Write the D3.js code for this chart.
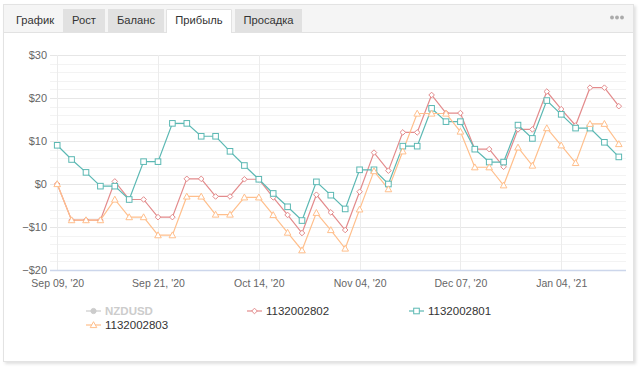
<!DOCTYPE html>
<html><head><meta charset="utf-8">
<script src="https://cdn.jsdelivr.net/npm/d3@7"></script>
<style>
body{margin:0;background:#fff;font-family:"Liberation Sans",Arial,sans-serif}
svg{display:block}
</style></head>
<body><svg id="c" width="643" height="371"></svg>
<script>
const categories=["Sep 09, '20","Sep 10, '20","Sep 11, '20","Sep 14, '20","Sep 15, '20","Sep 16, '20","Sep 18, '20",
"Sep 21, '20","Sep 24, '20","Sep 28, '20","Oct 01, '20","Oct 05, '20","Oct 07, '20","Oct 09, '20",
"Oct 14, '20","Oct 16, '20","Oct 20, '20","Oct 23, '20","Oct 27, '20","Oct 29, '20","Nov 02, '20",
"Nov 04, '20","Nov 09, '20","Nov 13, '20","Nov 17, '20","Nov 20, '20","Nov 25, '20","Dec 01, '20",
"Dec 07, '20","Dec 10, '20","Dec 14, '20","Dec 17, '20","Dec 21, '20","Dec 24, '20","Dec 29, '20",
"Jan 04, '21","Jan 06, '21","Jan 08, '21","Jan 12, '21","Jan 14, '21"];
const tickLabels=["Sep 09, '20","Sep 21, '20","Oct 14, '20","Nov 04, '20","Dec 07, '20","Jan 04, '21"];
const yTicks=[-20,-10,0,10,20,30];
const tabs=["График","Рост","Баланс","Прибыль","Просадка"];
const activeTab="Прибыль";
const s1132002802=[0,-8.4,-8.4,-8.4,0.6,-3.6,-3.6,-7.7,-7.7,1.2,1.2,-2.9,-2.9,1.1,1.1,-3.1,-7.2,-11.4,-2.5,-6.6,-10.7,-1.8,7.3,3.1,12.0,12.0,20.7,16.5,16.5,8.1,8.1,4.0,12.7,12.7,21.5,17.4,13.6,22.4,22.4,18.1];
const s1132002801=[9.0,5.7,2.7,-0.5,-0.5,-3.6,5.2,5.2,14.1,14.1,11.1,11.1,7.6,4.3,1.1,-2.2,-5.3,-8.5,0.5,-2.6,-5.8,3.3,3.3,0,8.8,8.8,17.6,14.5,14.5,8.1,5.1,5.1,13.7,10.6,19.4,16.2,13.0,13.0,9.7,6.3];
const s1132002803=[0,-8.4,-8.4,-8.4,-3.6,-7.7,-7.7,-11.9,-11.9,-2.9,-2.9,-7.1,-7.1,-3.1,-3.1,-7.2,-11.3,-15.4,-6.7,-10.7,-15.0,-5.9,3.0,-1.2,7.6,16.4,16.4,16.4,12.2,3.9,3.9,-0.3,8.5,4.3,13.0,9.0,4.9,14.0,14.0,9.3];
const legendNames=["NZDUSD","1132002802","1132002801","1132002803"];

const series=[
 {name:"1132002802",values:s1132002802,color:"#e38b8c",marker:"diamond"},
 {name:"1132002801",values:s1132002801,color:"#5bb8b3",marker:"square"},
 {name:"1132002803",values:s1132002803,color:"#ffbf8c",marker:"triangle"}
];

const svg=d3.select("#c");
const defs=svg.append("defs");
const f=defs.append("filter").attr("id","sh").attr("x","-5%").attr("y","-5%").attr("width","110%").attr("height","110%");
f.append("feDropShadow").attr("dx",2).attr("dy",2).attr("stdDeviation",1.5).attr("flood-color","#000").attr("flood-opacity",0.12);

// card
svg.append("rect").attr("x",3.5).attr("y",4.5).attr("width",630).attr("height",357).attr("fill","#fff").attr("stroke","#e3e3e3").attr("filter","url(#sh)");
// tab bar
svg.append("rect").attr("x",4).attr("y",5).attr("width",629).attr("height",27).attr("fill","#f5f5f5");
svg.append("line").attr("x1",4).attr("x2",633).attr("y1",32.5).attr("y2",32.5).attr("stroke","#e2e2e2");
const tabPos=[[6,60],[63,105],[108,164],[166,232],[235,302]];
tabs.forEach((t,i)=>{
  const [a,b]=tabPos[i];
  const act=t===activeTab;
  if(i>0){
    svg.append("rect").attr("x",a).attr("y",9).attr("width",b-a).attr("height",act?24:23)
      .attr("fill",act?"#fff":"#e1e1e1");
    if(act){
      svg.append("path").attr("d",`M${a+0.5},33V9.5H${b-0.5}V33`).attr("fill","none").attr("stroke","#e2e2e2");
    }
  }
  svg.append("text").attr("x",(a+b)/2+(i===0?2:0)).attr("y",23.5).attr("text-anchor","middle")
    .attr("font-size",11.2).attr("fill","#333").text(t);
});
// dots menu
[612,617,622].forEach(cx=>svg.append("circle").attr("cx",cx).attr("cy",17.5).attr("r",1.9).attr("fill","#aaa"));

const L=50,R=626,T=55,B=270;
const x=d3.scaleBand().domain(categories).range([L,R]);
const cx=d=>x(d)+x.bandwidth()/2;
const y=d3.scaleLinear().domain([-20,30]).range([B,T]);

const g=svg.append("g");
// minor grid
g.selectAll(".mi").data(d3.range(-20,31,2).filter(v=>v%10!==0)).enter().append("line")
  .attr("x1",L).attr("x2",R).attr("y1",d=>Math.round(y(d))+0.5).attr("y2",d=>Math.round(y(d))+0.5)
  .attr("stroke","#f3f3f3");
// major grid
g.selectAll(".ma").data(yTicks.filter(v=>v!==-20)).enter().append("line")
  .attr("x1",L).attr("x2",R).attr("y1",d=>Math.round(y(d))+0.5).attr("y2",d=>Math.round(y(d))+0.5)
  .attr("stroke","#e6e6e6");
// vertical grid
g.selectAll(".vg").data(tickLabels).enter().append("line")
  .attr("x1",d=>Math.round(cx(d))+0.5).attr("x2",d=>Math.round(cx(d))+0.5).attr("y1",T).attr("y2",B)
  .attr("stroke","#ececec");
// x axis line
g.append("line").attr("x1",L).attr("x2",R).attr("y1",B+0.5).attr("y2",B+0.5).attr("stroke","#ccd6eb").attr("stroke-width",1.5);

// y axis
const ya=svg.append("g").attr("transform",`translate(${L-3},0)`)
  .call(d3.axisLeft(y).tickValues(yTicks).tickSize(0).tickPadding(0).tickFormat(d=>d<0?"−$"+(-d):"$"+d));
ya.select(".domain").remove();
ya.selectAll("text").attr("font-family","Liberation Sans, Arial, sans-serif").attr("font-size",11).attr("fill","#666");

// x axis
const xp=d3.scalePoint().domain(categories).range([cx(categories[0]),cx(categories[categories.length-1])]);
const xa=svg.append("g").attr("transform",`translate(0,${B})`)
  .call(d3.axisBottom(xp).tickValues(tickLabels).tickSize(0).tickPadding(10));
xa.select(".domain").remove();
xa.selectAll("text").attr("font-family","Liberation Sans, Arial, sans-serif").attr("font-size",10.5).attr("fill","#666");

function marker(sel,type,color){
  if(type==="diamond"){
    sel.append("path").attr("d","M0,-2.8L2.8,0L0,2.8L-2.8,0Z");
  }else if(type==="square"){
    sel.append("rect").attr("x",-2.8).attr("y",-2.8).attr("width",5.6).attr("height",5.6);
  }else if(type==="triangle"){
    sel.append("path").attr("d","M0,-3.3L3.3,2.6L-3.3,2.6Z");
  }else{
    sel.append("circle").attr("r",2.6);
  }
  sel.selectAll("*").attr("fill",type==="circle"?color:"#fff").attr("stroke",color).attr("stroke-width",1);
}

const line=d3.line().x((d,i)=>cx(categories[i])).y(d=>y(d));
series.forEach(s=>{
  svg.append("path").datum(s.values).attr("d",line).attr("fill","none").attr("stroke",s.color).attr("stroke-width",1.2);
});
series.forEach(s=>{
  s.values.forEach((v,i)=>{
    const m=svg.append("g").attr("transform",`translate(${cx(categories[i])},${y(v)})`);
    marker(m,s.marker,s.color);
  });
});

// legend
const legendItems=[
 {name:legendNames[0],color:"#cccccc",marker:"circle",x:86,y:311,hidden:true},
 {name:legendNames[1],color:series[0].color,marker:"diamond",x:247,y:311},
 {name:legendNames[2],color:series[1].color,marker:"square",x:409,y:311},
 {name:legendNames[3],color:series[2].color,marker:"triangle",x:86,y:325}
];
legendItems.forEach(it=>{
  const lg=svg.append("g").attr("transform",`translate(${it.x},${it.y})`);
  lg.append("line").attr("x1",0).attr("x2",15).attr("y1",0).attr("y2",0).attr("stroke",it.color).attr("stroke-width",1.2);
  const m=lg.append("g").attr("transform","translate(7.5,0)");
  marker(m,it.marker,it.color);
  lg.append("text").attr("x",19).attr("y",4).attr("font-size",11.5)
    .attr("font-weight",it.hidden?"bold":"normal")
    .attr("fill",it.hidden?"#cccccc":"#333").text(it.name);
});
</script></body></html>
